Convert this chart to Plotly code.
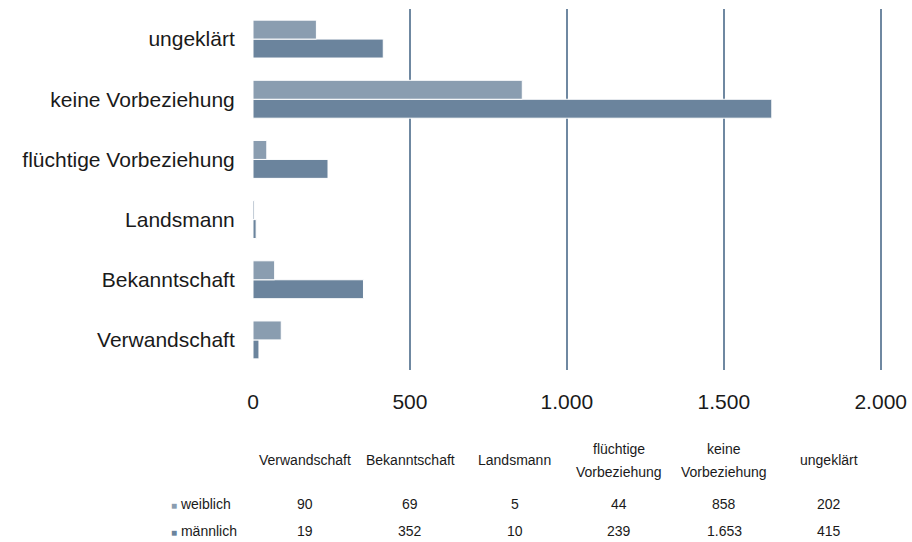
import plotly.graph_objects as go

# ---- data ----
categories = ["Verwandschaft", "Bekanntschaft", "Landsmann",
              "flüchtige Vorbeziehung", "keine Vorbeziehung", "ungeklärt"]
table_headers = ["Verwandschaft", "Bekanntschaft", "Landsmann",
                 "flüchtige<br>Vorbeziehung", "keine<br>Vorbeziehung", "ungeklärt"]
weiblich = [90, 69, 5, 44, 858, 202]
maennlich = [19, 352, 10, 239, 1653, 415]
series_names = ["weiblich", "männlich"]
x_tickvals = [0, 500, 1000, 1500, 2000]
x_ticktext = ["0", "500", "1.000", "1.500", "2.000"]
grid_vals = [500, 1000, 1500, 2000]

COL_W = "#8a9db0"
COL_M = "#6b849d"
GRID = "#6f88a1"
TXT = "#1a1a1a"
FONT = "Liberation Sans, Arial, sans-serif"
XMAX = 2020


def fmt(v):
    return f"{v:,}".replace(",", ".")


fig = go.Figure()
fig.add_trace(go.Bar(y=categories, x=maennlich, orientation="h", name=series_names[1],
                     marker=dict(color=COL_M, line=dict(color="#ffffff", width=1)),
                     showlegend=False))
fig.add_trace(go.Bar(y=categories, x=weiblich, orientation="h", name=series_names[0],
                     marker=dict(color=COL_W, line=dict(color="#ffffff", width=1)),
                     showlegend=False))

# invisible overlay axis for the gridlines only (no line at 0)
fig.add_trace(go.Scatter(x=[None], y=[None], xaxis="x3", yaxis="y", showlegend=False))

H = 542
top = 9
plot_bottom = 370
ydom0 = 1 - (plot_bottom - top) / (H - top)

fig.update_layout(
    width=912, height=H,
    margin=dict(l=253, r=25, t=top, b=0),
    paper_bgcolor="white", plot_bgcolor="white",
    barmode="group", bargap=0.37, bargroupgap=0,
    font=dict(family=FONT, color=TXT),
    xaxis=dict(range=[0, XMAX], tickvals=x_tickvals, ticktext=x_ticktext,
               showgrid=False, zeroline=False, showline=False,
               ticks="outside", ticklen=13, tickcolor="rgba(0,0,0,0)",
               tickfont=dict(size=21, color=TXT), anchor="y", fixedrange=True),
    xaxis3=dict(range=[0, XMAX], overlaying="x", anchor="y", tickvals=grid_vals,
                showticklabels=False, showgrid=True, gridcolor=GRID, gridwidth=2,
                zeroline=False, showline=False, ticks=""),
    yaxis=dict(domain=[ydom0, 1], showgrid=False, zeroline=False, showline=False,
               ticks="outside", ticklen=13, tickcolor="rgba(0,0,0,0)",
               tickfont=dict(size=21, color=TXT), categoryorder="array",
               categoryarray=categories),
    xaxis2=dict(type="category", domain=[0, 628 / 634], anchor="y2", visible=False,
                range=[-0.5, 5.5], categoryorder="array", categoryarray=categories),
    yaxis2=dict(domain=[0, ydom0], range=[H - plot_bottom, 0], visible=False,
                anchor="x2"),
)

# dummy trace so axes 2 exist
fig.add_trace(go.Scatter(x=categories, y=[None] * len(categories), xaxis="x2", yaxis="y2",
                         mode="markers", showlegend=False, hoverinfo="skip"))

# table header
for cat, head in zip(categories, table_headers):
    lines = head.split("<br>")
    if len(lines) == 1:
        ys = [90]
    else:
        ys = [79, 102]
    for ln, yy in zip(lines, ys):
        fig.add_annotation(x=cat, y=yy, xref="x2", yref="y2", text=ln, showarrow=False,
                           font=dict(size=14, color=TXT), xanchor="center", yanchor="middle")

# table rows
for vals, yy in ((weiblich, 134), (maennlich, 161)):
    for cat, v in zip(categories, vals):
        fig.add_annotation(x=cat, y=yy, xref="x2", yref="y2", text=fmt(v), showarrow=False,
                           font=dict(size=14, color=TXT), xanchor="center", yanchor="middle")

# legend keys
for name, col, yy in ((series_names[0], COL_W, 134), (series_names[1], COL_M, 161)):
    fig.add_annotation(x=-84 / 634, y=yy, xref="paper", yref="y2",
                       text=f"<span style='color:{col};font-size:10px'>■</span> {name}",
                       showarrow=False, font=dict(size=14, color=TXT),
                       xanchor="left", yanchor="middle")

fig.write_html("out.html", config={"displayModeBar": False},
               post_script="document.body.style.margin='0';document.body.style.overflow='hidden';")
